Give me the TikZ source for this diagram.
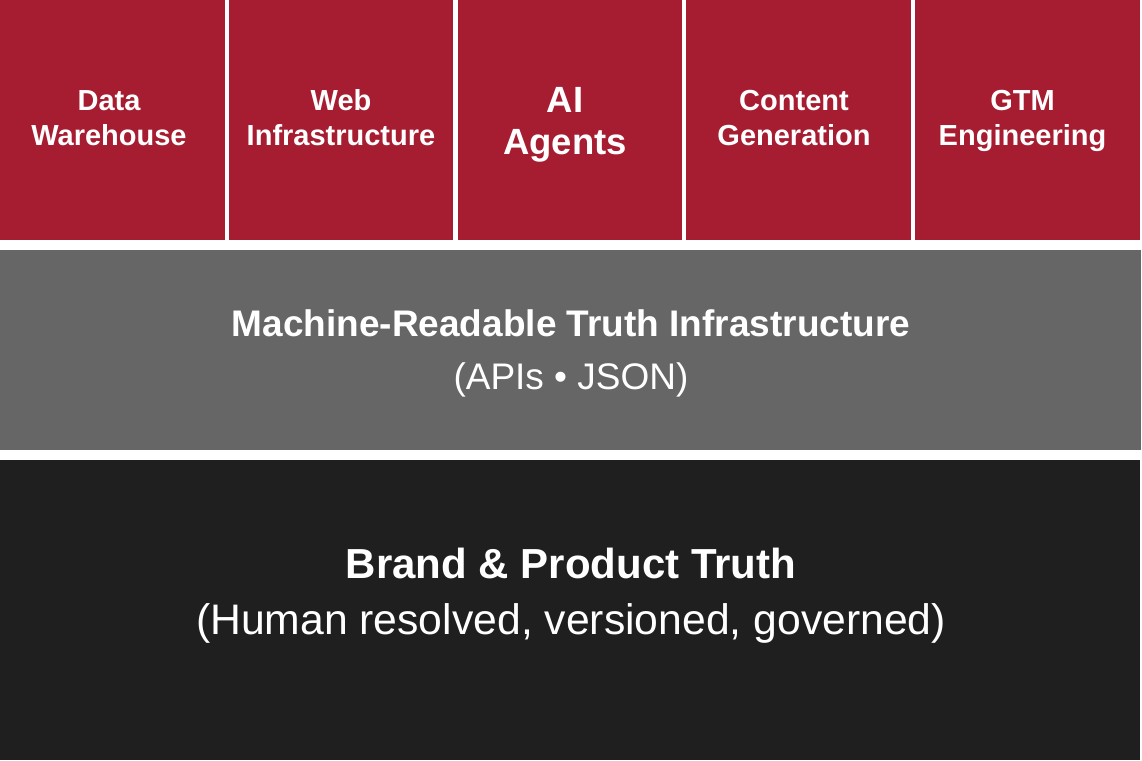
\documentclass[tikz,border=0pt]{standalone}
\usepackage{fontspec}
\setmainfont{Liberation Sans}
\begin{document}
\begin{tikzpicture}[x=1pt,y=-1pt,
  redbox/.style={fill=crimson,draw=none},
  toplbl/.style={text=white,font=\bfseries\fontsize{29}{34}\selectfont,anchor=base,inner sep=0pt},
  biglbl/.style={text=white,font=\bfseries\fontsize{36.5}{42}\selectfont,anchor=base,inner sep=0pt},
  midtitle/.style={text=white,font=\bfseries\fontsize{37}{44}\selectfont,anchor=base,inner sep=0pt},
  midsub/.style={text=white,font=\fontsize{37}{44}\selectfont,anchor=base,inner sep=0pt},
  bottitle/.style={text=white,font=\bfseries\fontsize{42}{50}\selectfont,anchor=base,inner sep=0pt},
  botsub/.style={text=white,font=\fontsize{42.7}{50}\selectfont,anchor=base,inner sep=0pt}]
\definecolor{crimson}{HTML}{A61C30}
\definecolor{midgray}{HTML}{666666}
\definecolor{darkband}{HTML}{1F1F1F}
\useasboundingbox[fill=white] (0,0) rectangle (1142,760);
% top boxes
\fill[redbox] (0,0) rectangle (224.5,240);
\fill[redbox] (228.8,0) rectangle (453.3,240);
\fill[redbox] (457.6,0) rectangle (682.1,240);
\fill[redbox] (686.4,0) rectangle (910.9,240);
\fill[redbox] (915.2,0) rectangle (1139.7,240);
% bands
\fill[midgray] (0,250) rectangle (1141,450);
\fill[darkband] (0,460) rectangle (1140,760);
% top labels
\node[toplbl] (dw1) at (109,110) {Data};
\node[toplbl] (dw2) at (109,145) {Warehouse};
\node[toplbl] (wi1) at (341,110) {Web};
\node[toplbl] (wi2) at (341,145) {Infrastructure};
\node[biglbl] (ai1) at (565,112) {AI};
\node[biglbl] (ai2) at (565,154) {Agents};
\node[toplbl] (cg1) at (794,110) {Content};
\node[toplbl] (cg2) at (794,145) {Generation};
\node[toplbl] (gtm1) at (1022.5,110) {GTM};
\node[toplbl] (gtm2) at (1022.5,145) {Engineering};
% middle band
\node[midtitle] (mt) at (571,336.5) {Machine-Readable Truth Infrastructure};
\node[midsub] (ms) at (571,389) {(APIs • JSON)};
% bottom band
\node[bottitle] (bt) at (571,578) {Brand \& Product Truth};
\node[botsub] (bs) at (571,634) {(Human resolved, versioned, governed)};
\end{tikzpicture}
\end{document}
